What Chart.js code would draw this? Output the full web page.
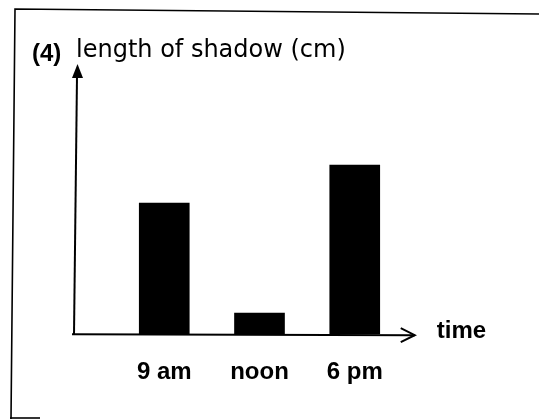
<!DOCTYPE html>
<html>
<head>
<meta charset="utf-8">
<script src="https://cdn.jsdelivr.net/npm/chart.js@4.4.0/dist/chart.umd.min.js"></script>
<style>
  html, body { margin: 0; padding: 0; background: #fff; }
  canvas { display: block; }
</style>
</head>
<body>
<canvas id="shadowChart" width="539" height="419"></canvas>
<script>
// bar chart of shadow length through the day (no numbers on the y axis)
const categories = ['9 am', 'noon', '6 pm'];
const shadowLength = [13.1, 2.1, 16.9];
const yMax = 27;

const axisTitle = 'length of shadow (cm)';
const questionNo = '(4)';
const xAxisName = 'time';

// empty slot at each end so the bars sit where they do in the drawing
const labels = [''].concat(categories, ['']);
const values = [null].concat(shadowLength, [null]);

const decorations = {
  id: 'decorations',
  afterDraw(chart) {
    const ctx = chart.ctx;
    const area = chart.chartArea;
    const ox = area.left + 5;
    const oy = chart.scales.y.getPixelForValue(0);
    const xEnd = chart.scales.x.getPixelForValue(3) + 60;

    ctx.save();
    ctx.strokeStyle = '#000';
    ctx.fillStyle = '#000';

    // scanned frame
    ctx.lineWidth = 1.6;
    ctx.beginPath();
    ctx.moveTo(539, 14);
    ctx.lineTo(15, 9);
    ctx.lineTo(11, 419);
    ctx.stroke();
    ctx.beginPath();
    ctx.moveTo(10, 418);
    ctx.lineTo(40, 418);
    ctx.stroke();

    // y axis with solid arrow
    ctx.lineWidth = 2;
    ctx.beginPath();
    ctx.moveTo(ox, oy);
    ctx.lineTo(ox + 3, area.top + 12);
    ctx.stroke();
    ctx.beginPath();
    ctx.moveTo(ox + 3.5, area.top);
    ctx.lineTo(ox - 2, area.top + 14);
    ctx.lineTo(ox + 9, area.top + 14);
    ctx.closePath();
    ctx.fill();

    // x axis with open arrow
    ctx.beginPath();
    ctx.moveTo(ox - 2, oy);
    ctx.lineTo(xEnd, oy + 1);
    ctx.stroke();
    ctx.beginPath();
    ctx.moveTo(xEnd - 14, oy - 6);
    ctx.lineTo(xEnd, oy + 1);
    ctx.lineTo(xEnd - 14, oy + 8);
    ctx.stroke();

    // texts
    ctx.textBaseline = 'alphabetic';
    ctx.textAlign = 'left';
    ctx.font = 'bold 24px "Liberation Sans", Arial, sans-serif';
    ctx.fillText(questionNo, 32, 61);
    ctx.fillText(xAxisName, xEnd + 22, oy + 4);
    ctx.font = '24px "DejaVu Sans", sans-serif';
    ctx.fillText(axisTitle, 76, 57);
    ctx.restore();
  }
};

new Chart(document.getElementById('shadowChart'), {
  type: 'bar',
  data: {
    labels: labels,
    datasets: [{
      data: values,
      backgroundColor: '#000',
      borderWidth: 0,
      barThickness: 50
    }]
  },
  options: {
    responsive: false,
    animation: false,
    layout: { padding: { left: 69, right: 89, top: 64, bottom: 8 } },
    plugins: {
      legend: { display: false },
      tooltip: { enabled: false }
    },
    scales: {
      x: {
        offset: false,
        grid: { display: false, drawTicks: false },
        border: { display: false },
        ticks: {
          color: '#000',
          padding: 24,
          maxRotation: 0,
          autoSkip: false,
          font: { family: '"Liberation Sans", Arial, sans-serif', size: 24, weight: 'bold' }
        }
      },
      y: {
        display: false,
        min: 0,
        max: yMax
      }
    }
  },
  plugins: [decorations]
});
</script>
</body>
</html>
